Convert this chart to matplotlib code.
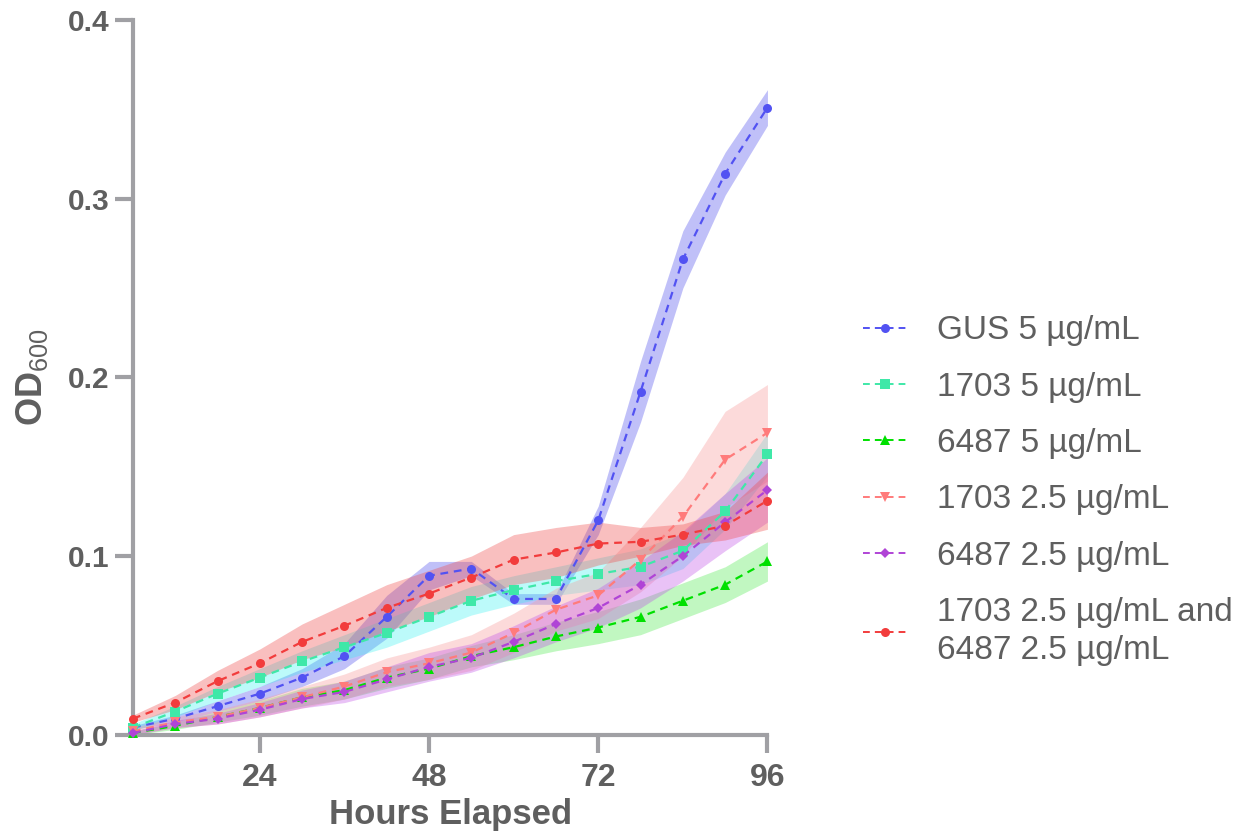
import numpy as np
import matplotlib.pyplot as plt
from matplotlib.lines import Line2D

# ----------------------------
# DATA
# ----------------------------
hours = [6, 12, 18, 24, 30, 36, 42, 48, 54, 60, 66, 72, 78, 84, 90, 96]

labels = ["GUS 5 µg/mL", "1703 5 µg/mL", "6487 5 µg/mL",
          "1703 2.5 µg/mL", "6487 2.5 µg/mL",
          "1703 2.5 µg/mL and\n6487 2.5 µg/mL"]

gus_mean = [0.004, 0.009, 0.016, 0.023, 0.032, 0.044, 0.066, 0.089,
            0.093, 0.076, 0.076, 0.120, 0.192, 0.266, 0.314, 0.351]
gus_sd = [0.001, 0.002, 0.003, 0.004, 0.005, 0.007, 0.012, 0.008,
          0.004, 0.003, 0.003, 0.008, 0.017, 0.016, 0.012, 0.010]

c1703_5_mean = [0.004, 0.013, 0.023, 0.032, 0.041, 0.049, 0.057, 0.066,
                0.075, 0.081, 0.086, 0.090, 0.094, 0.103, 0.125, 0.157]
c1703_5_sd = [0.002, 0.003, 0.004, 0.005, 0.006, 0.007, 0.008, 0.008,
              0.008, 0.008, 0.008, 0.009, 0.010, 0.010, 0.010, 0.012]

c6487_5_mean = [0.001, 0.005, 0.010, 0.015, 0.021, 0.025, 0.032, 0.037,
                0.044, 0.049, 0.055, 0.060, 0.066, 0.075, 0.084, 0.097]
c6487_5_sd = [0.001, 0.002, 0.003, 0.004, 0.005, 0.005, 0.006, 0.006,
              0.006, 0.007, 0.008, 0.009, 0.010, 0.010, 0.010, 0.011]

c1703_25_mean = [0.002, 0.007, 0.010, 0.015, 0.021, 0.027, 0.035, 0.040,
                 0.046, 0.057, 0.070, 0.078, 0.098, 0.122, 0.154, 0.169]
c1703_25_sd = [0.002, 0.003, 0.004, 0.005, 0.006, 0.007, 0.008, 0.009,
               0.010, 0.011, 0.012, 0.013, 0.018, 0.022, 0.027, 0.027]

c6487_25_mean = [0.001, 0.006, 0.009, 0.014, 0.020, 0.024, 0.031, 0.038,
                 0.043, 0.052, 0.062, 0.071, 0.084, 0.100, 0.119, 0.137]
c6487_25_sd = [0.001, 0.002, 0.003, 0.004, 0.005, 0.006, 0.007, 0.008,
               0.008, 0.009, 0.010, 0.011, 0.013, 0.014, 0.016, 0.018]

combo_mean = [0.009, 0.018, 0.030, 0.040, 0.052, 0.061, 0.071, 0.079,
              0.088, 0.098, 0.102, 0.107, 0.108, 0.112, 0.117, 0.131]
combo_sd = [0.002, 0.004, 0.006, 0.008, 0.010, 0.012, 0.013, 0.013,
            0.012, 0.014, 0.014, 0.012, 0.008, 0.006, 0.008, 0.016]

means = [gus_mean, c1703_5_mean, c6487_5_mean, c1703_25_mean, c6487_25_mean, combo_mean]
sds = [gus_sd, c1703_5_sd, c6487_5_sd, c1703_25_sd, c6487_25_sd, combo_sd]

# ----------------------------
# STYLE
# ----------------------------
line_colors = ["#5252F2", "#3FE8A8", "#00E000", "#FF7B7B", "#B044D6", "#F23C3C"]
band_colors = ["#6A6AF0", "#30F0F0", "#40E840", "#F8A0A0", "#C050E8", "#F04848"]
band_alpha = [0.42, 0.32, 0.32, 0.38, 0.35, 0.35]
markers = ["o", "s", "^", "v", "D", "o"]
msizes = [6.5, 6.5, 6.5, 7.5, 5.5, 6.5]
DASH = (0, (3.5, 2.6))

AXIS_GRAY = "#A0A0A4"
TEXT_GRAY = "#5F5F5F"

plt.rcParams["font.family"] = ["Liberation Sans", "DejaVu Sans"]
plt.rcParams["mathtext.fontset"] = "custom"
plt.rcParams["mathtext.rm"] = "Liberation Sans"
plt.rcParams["mathtext.bf"] = "Liberation Sans:bold"

fig = plt.figure(figsize=(12.54, 8.34), dpi=100)
ax = fig.add_axes([0.106, 0.119, 0.506, 0.857])

x = np.array(hours)
for i in range(len(labels)):
    m = np.array(means[i])
    s = np.array(sds[i])
    ax.fill_between(x, m - s, m + s, color=band_colors[i], alpha=band_alpha[i],
                    linewidth=0, zorder=1)

for i in range(len(labels)):
    ax.plot(x, means[i], linestyle=DASH, linewidth=1.6, color=line_colors[i],
            marker=markers[i], markersize=msizes[i], markeredgewidth=0,
            zorder=3, clip_on=False)

ax.set_xlim(6, 96)
ax.set_ylim(0, 0.4)
ax.set_xticks([24, 48, 72, 96])
ax.set_yticks([0.0, 0.1, 0.2, 0.3, 0.4])
ax.set_yticklabels(["0.0", "0.1", "0.2", "0.3", "0.4"])

for side in ["top", "right"]:
    ax.spines[side].set_visible(False)
for side in ["left", "bottom"]:
    ax.spines[side].set_color(AXIS_GRAY)
    ax.spines[side].set_linewidth(3)

ax.tick_params(axis="x", length=13, width=3, color=AXIS_GRAY, pad=7,
               labelsize=23, labelcolor=TEXT_GRAY)
ax.tick_params(axis="y", length=13, width=3, color=AXIS_GRAY, pad=4,
               labelsize=21.5, labelcolor=TEXT_GRAY)
for lab in ax.get_xticklabels() + ax.get_yticklabels():
    lab.set_fontweight("bold")

ax.set_xlabel("Hours Elapsed", fontsize=25, fontweight="bold", color=TEXT_GRAY, labelpad=4)
ax.set_ylabel(r"$\mathbf{OD}_{\mathrm{600}}$", fontsize=26, color=TEXT_GRAY, labelpad=13)

handles = [Line2D([0], [0], linestyle=DASH, linewidth=1.4, color=line_colors[i],
                  marker=markers[i], markersize=msizes[i], markeredgewidth=0)
           for i in range(len(labels))]
leg = fig.legend(handles, labels, loc="upper left", bbox_to_anchor=(0.688, 0.622),
                 frameon=False, fontsize=24, handlelength=1.35, handletextpad=0.87,
                 labelspacing=0.76, borderpad=0, borderaxespad=0,
                 labelcolor=TEXT_GRAY)
for t in leg.get_texts():
    t.set_linespacing(1.3)

plt.savefig("out.png", dpi=100)
